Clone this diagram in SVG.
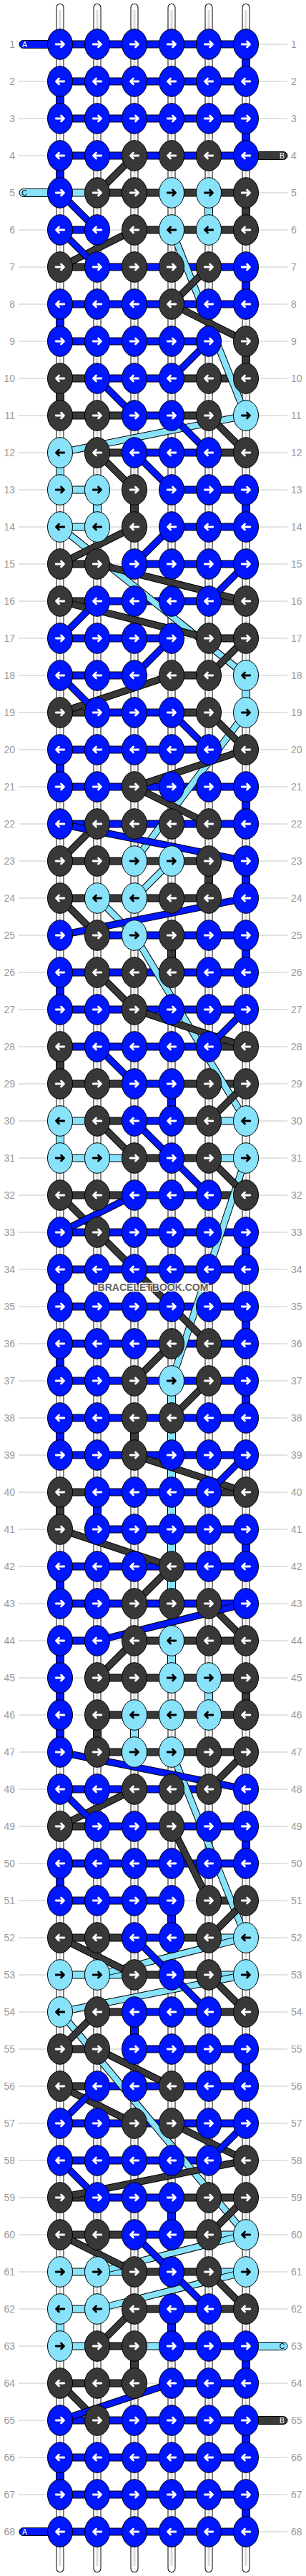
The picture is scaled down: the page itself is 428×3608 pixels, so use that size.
<svg xmlns="http://www.w3.org/2000/svg" xmlns:xlink="http://www.w3.org/1999/xlink" width="428" height="3608" viewBox="0 0 428 3608">
<style>
.kb{fill:#0016ff;stroke:#000;stroke-width:1}.kd{fill:#383838;stroke:#000;stroke-width:1}.kl{fill:#87e2fa;stroke:#000;stroke-width:1}
.aw,.ak{fill:none;stroke-width:2.8;stroke-linecap:round;stroke-linejoin:round}.aw{stroke:#fff}.ak{stroke:#000}
.gl{fill:none;stroke:#c4c4c4;stroke-width:1}
.to{fill:none;stroke:#000;stroke-width:11;stroke-linecap:round}.tw{fill:none;stroke:#fff;stroke-width:9;stroke-linecap:round}.tc{fill:none;stroke:#dadada;stroke-width:3}
.vo{fill:none;stroke:#000;stroke-width:12}.vi{fill:none;stroke-width:10}
.ho{fill:none;stroke:#000;stroke-width:11}.hi{fill:none;stroke-width:9}
.xo{fill:none;stroke:#000;stroke-width:10}.xi{fill:none;stroke-width:8}
.sb{stroke:#0016ff}.sd{stroke:#383838}.sl{stroke:#87e2fa}
.pb{fill:#0016ff;stroke:#000}.pd{fill:#383838;stroke:#000}.pl{fill:#87e2fa;stroke:#000}
.pt{font-family:"Liberation Sans",Arial,sans-serif;font-size:10.5px;text-anchor:middle}
.nl,.nr{font-family:"Liberation Sans",Arial,sans-serif;font-size:14px;fill:#999}.nl{text-anchor:end}
.wm{font-family:"Liberation Sans",Arial,sans-serif;font-size:14px;font-weight:bold;fill:#555;stroke:#fff;stroke-width:2.5;paint-order:stroke;text-anchor:middle;opacity:.9}
</style>
<defs>
<g id="bR"><ellipse class="kb" rx="17.5" ry="21.3"/><path class="aw" d="M-5.8 0H5.3M1.5-4L5.5 0L1.5 4"/></g>
<g id="bL"><ellipse class="kb" rx="17.5" ry="21.3"/><path class="aw" d="M5.8 0H-5.3M-1.5-4L-5.5 0L-1.5 4"/></g>
<g id="dR"><ellipse class="kd" rx="17.5" ry="21.3"/><path class="aw" d="M-5.8 0H5.3M1.5-4L5.5 0L1.5 4"/></g>
<g id="dL"><ellipse class="kd" rx="17.5" ry="21.3"/><path class="aw" d="M5.8 0H-5.3M-1.5-4L-5.5 0L-1.5 4"/></g>
<g id="lR"><ellipse class="kl" rx="17.5" ry="21.3"/><path class="ak" d="M-5.8 0H5.3M1.5-4L5.5 0L1.5 4"/></g>
<g id="lL"><ellipse class="kl" rx="17.5" ry="21.3"/><path class="ak" d="M5.8 0H-5.3M-1.5-4L-5.5 0L-1.5 4"/></g>
<path id="tubes" d="M84 10.5V3597.5M136 10.5V3597.5M188 10.5V3597.5M240 10.5V3597.5M292 10.5V3597.5M344 10.5V3597.5"/>
<path id="vB" d="M344 62V114M84 114V166M344 166V218M84 218V270M344 374V426M84 426V478M344 686V738M84 1050V1102M344 1102V1154M344 1206V1258M344 1310V1362M84 1362V1414M240 1518V1570M344 1726V1778M84 1778V1830M344 1830V1882M84 1882V1934M344 1934V1986M84 1986V2038M136 2090V2142M344 2142V2194M84 2194V2246M84 2298V2454M344 2558V2610M84 2610V2662M240 2662V2714M188 2818V2870M344 2870V2922M240 3078V3130M240 3234V3286M344 3286V3338M344 3390V3442M84 3442V3494M344 3494V3546"/>
<path id="vD" d="M344 270V322M344 478V530M84 530V582M188 686V738M292 1206V1258M240 1310V1362M84 1466V1518M188 1986V2038M84 2090V2142M344 2350V2402M136 2402V2454M188 3286V3338"/>
<path id="vL" d="M292 270V322M84 634V686M136 686V738M344 946V998M84 1570V1622M240 1934V2246M240 2298V2350M292 2350V2402M188 2402V2454M84 3234V3286"/>
<path id="hB" d="M84 62H344M84 114H344M84 166H344M84 218H344M84 426H344M84 1102H344M84 1154H344M84 1362H344M84 1414H344M84 1726H344M84 1778H344M84 1830H344M84 1882H344M84 1934H344M84 1986H344M84 2038H344M84 2194H344M84 2246H344M84 2610H344M84 2974H344M84 3390H344M84 3442H344M84 3494H344M84 3546H344M84 322H136M136 374H344M84 478H292M136 530H240M188 582H240M188 634H292M240 686H344M240 738H344M188 790H344M136 842H292M84 894H240M84 946H188M136 998H240M84 1050H292M136 1310H344M84 1466H292M188 1518H240M188 1570H240M188 1674H292M136 2090H292M136 2142H344M84 2298H136M84 2506H292M136 2558H344M84 2662H240M188 2714H240M188 2818H292M188 2870H344M136 2922H344M84 3026H292M136 3078H240M188 3130H240M240 3234H292M240 3286H344M240 3338H344"/>
<path id="hD" d="M136 270H344M188 322H344M84 374H136M84 530H136M240 530H344M84 582H188M240 582H292M136 634H188M292 634H344M84 790H136M84 842H136M292 842H344M292 894H344M240 946H292M84 998H136M240 998H292M84 1206H292M84 1258H292M292 1466H344M84 1518H188M240 1518H344M136 1570H188M240 1570H292M188 1622H292M84 1674H188M292 1674H344M84 2090H136M292 2090H344M188 2298H344M136 2350H344M136 2402H344M136 2454H344M84 2558H136M292 2662H344M84 2714H188M240 2714H292M188 2766H292M136 2818H188M292 2818H344M84 2870H136M84 2922H136M84 3078H136M240 3078H344M84 3130H188M240 3130H292M188 3182H292M188 3234H240M292 3234H344M136 3286H188M84 3338H188"/>
<path id="hL" d="M84 270H136M84 686H136M84 738H136M84 1570H136M292 1570H344M84 1622H188M292 1622H344M292 2714H344M84 2766H188M292 2766H344M292 3130H344M84 3182H188M292 3182H344M84 3234H136M84 3286H136M188 3286H240"/>
<path id="dgL" d="M240 322L344 582M344 582L84 634M84 738L344 946M344 998L188 1206M240 1206L188 1258M136 1258L188 1310M188 1310L344 1570M344 1622L240 1934M240 2454L344 2714M344 2714L136 2766M344 2766L84 2818M84 2818L344 3130M344 3130L136 3182M344 3182L136 3234"/>
<path id="dgD" d="M188 218L136 270M188 322L84 374M292 374L240 426M240 426L344 478M292 582L344 634M136 634L188 686M188 738L84 790M136 790L344 842M84 842L292 894M344 894L292 946M240 946L84 998M292 998L344 1050M344 1050L188 1102M188 1102L292 1154M136 1154L84 1206M84 1258L136 1310M136 1362L188 1414M188 1414L344 1466M344 1518L292 1570M136 1570L188 1622M292 1622L344 1674M84 1674L136 1726M136 1726L292 1882M240 1882L188 1934M292 1934L240 1986M188 2038L344 2090M84 2142L240 2194M240 2194L188 2246M292 2246L344 2298M188 2298L136 2350M344 2454L292 2506M188 2506L84 2558M240 2558L292 2662M344 2662L292 2714M84 2714L188 2766M292 2766L344 2818M136 2818L84 2870M136 2870L240 2922M84 2922L188 2974M240 2974L344 3026M344 3026L84 3078M344 3078L292 3130M84 3130L188 3182M292 3182L344 3234M188 3234L136 3286M84 3338L136 3390"/>
<path id="dgB" d="M84 270L136 322M84 322L136 374M292 478L240 530M136 530L188 582M240 582L292 634M188 634L240 686M240 738L188 790M344 790L292 842M136 842L84 894M240 894L188 946M84 946L136 998M240 998L292 1050M84 1154L344 1206M344 1258L84 1310M344 1414L292 1466M136 1466L188 1518M188 1570L240 1622M240 1622L292 1674M188 1674L84 1726M344 2038L292 2090M344 2246L136 2298M84 2454L344 2506M84 2506L136 2558M188 2714L240 2766M240 2766L292 2818M136 2922L84 2974M344 2974L292 3026M84 3026L136 3078M188 3130L240 3182M240 3182L292 3234M240 3338L84 3390"/>
</defs>
<rect width="428" height="3608" fill="#fff"/>
<path id="guides" class="gl" d="M26 62H402M26 114H402M26 166H402M26 218H402M26 270H402M26 322H402M26 374H402M26 426H402M26 478H402M26 530H402M26 582H402M26 634H402M26 686H402M26 738H402M26 790H402M26 842H402M26 894H402M26 946H402M26 998H402M26 1050H402M26 1102H402M26 1154H402M26 1206H402M26 1258H402M26 1310H402M26 1362H402M26 1414H402M26 1466H402M26 1518H402M26 1570H402M26 1622H402M26 1674H402M26 1726H402M26 1778H402M26 1830H402M26 1882H402M26 1934H402M26 1986H402M26 2038H402M26 2090H402M26 2142H402M26 2194H402M26 2246H402M26 2298H402M26 2350H402M26 2402H402M26 2454H402M26 2506H402M26 2558H402M26 2610H402M26 2662H402M26 2714H402M26 2766H402M26 2818H402M26 2870H402M26 2922H402M26 2974H402M26 3026H402M26 3078H402M26 3130H402M26 3182H402M26 3234H402M26 3286H402M26 3338H402M26 3390H402M26 3442H402M26 3494H402M26 3546H402"/>
<g id="connectors">
<use href="#tubes" class="to"/><use href="#tubes" class="tw"/><path class="tc" d="M84 14V3594M136 14V3594M188 14V3594M240 14V3594M292 14V3594M344 14V3594"/>
<use href="#vB" class="vo"/><use href="#vD" class="vo"/><use href="#vL" class="vo"/>
<use href="#vB" class="vi sb"/><use href="#vD" class="vi sd"/><use href="#vL" class="vi sl"/>
<use href="#hB" class="ho"/><use href="#hD" class="ho"/><use href="#hL" class="ho"/>
<use href="#hB" class="hi sb"/><use href="#hD" class="hi sd"/><use href="#hL" class="hi sl"/>
<rect class="pb" x="27" y="56.5" width="62" height="11" rx="5.5"/>
<rect class="pl" x="27" y="264.5" width="62" height="11" rx="5.5"/>
<rect class="pd" x="340" y="212.5" width="62" height="11" rx="5.5"/>
<rect class="pl" x="340" y="3280.5" width="62" height="11" rx="5.5"/>
<rect class="pd" x="340" y="3384.5" width="62" height="11" rx="5.5"/>
<rect class="pb" x="27" y="3540.5" width="62" height="11" rx="5.5"/>
<use href="#dgL" class="xo"/><use href="#dgL" class="xi sl"/>
<use href="#dgD" class="xo"/><use href="#dgD" class="xi sd"/>
<use href="#dgB" class="xo"/><use href="#dgB" class="xi sb"/>
</g>
<g id="pills-text" class="pt">
<text x="34.5" y="65.8" fill="#fff">A</text>
<text x="34" y="273.8" fill="#000">C</text>
<text x="394.5" y="221.8" fill="#fff">B</text>
<text x="394.5" y="3289.8" fill="#000">C</text>
<text x="394.5" y="3393.8" fill="#fff">B</text>
<text x="34.5" y="3549.8" fill="#fff">A</text>
</g>
<g id="knots">
<g id="k1-1"><use href="#bR" x="84" y="62"/></g><g id="k1-2"><use href="#bR" x="136" y="62"/></g><g id="k1-3"><use href="#bR" x="188" y="62"/></g><g id="k1-4"><use href="#bR" x="240" y="62"/></g><g id="k1-5"><use href="#bR" x="292" y="62"/></g><g id="k1-6"><use href="#bR" x="344" y="62"/></g>
<g id="k2-1"><use href="#bL" x="84" y="114"/></g><g id="k2-2"><use href="#bL" x="136" y="114"/></g><g id="k2-3"><use href="#bL" x="188" y="114"/></g><g id="k2-4"><use href="#bL" x="240" y="114"/></g><g id="k2-5"><use href="#bL" x="292" y="114"/></g><g id="k2-6"><use href="#bL" x="344" y="114"/></g>
<g id="k3-1"><use href="#bR" x="84" y="166"/></g><g id="k3-2"><use href="#bR" x="136" y="166"/></g><g id="k3-3"><use href="#bR" x="188" y="166"/></g><g id="k3-4"><use href="#bR" x="240" y="166"/></g><g id="k3-5"><use href="#bR" x="292" y="166"/></g><g id="k3-6"><use href="#bR" x="344" y="166"/></g>
<g id="k4-1"><use href="#bL" x="84" y="218"/></g><g id="k4-2"><use href="#bL" x="136" y="218"/></g><g id="k4-3"><use href="#dL" x="188" y="218"/></g><g id="k4-4"><use href="#dL" x="240" y="218"/></g><g id="k4-5"><use href="#dL" x="292" y="218"/></g><g id="k4-6"><use href="#bL" x="344" y="218"/></g>
<g id="k5-1"><use href="#bR" x="84" y="270"/></g><g id="k5-2"><use href="#dR" x="136" y="270"/></g><g id="k5-3"><use href="#dR" x="188" y="270"/></g><g id="k5-4"><use href="#lR" x="240" y="270"/></g><g id="k5-5"><use href="#lR" x="292" y="270"/></g><g id="k5-6"><use href="#dR" x="344" y="270"/></g>
<g id="k6-1"><use href="#bL" x="84" y="322"/></g><g id="k6-2"><use href="#bL" x="136" y="322"/></g><g id="k6-3"><use href="#dL" x="188" y="322"/></g><g id="k6-4"><use href="#lL" x="240" y="322"/></g><g id="k6-5"><use href="#lL" x="292" y="322"/></g><g id="k6-6"><use href="#dL" x="344" y="322"/></g>
<g id="k7-1"><use href="#dR" x="84" y="374"/></g><g id="k7-2"><use href="#bR" x="136" y="374"/></g><g id="k7-3"><use href="#dR" x="188" y="374"/></g><g id="k7-4"><use href="#dR" x="240" y="374"/></g><g id="k7-5"><use href="#dR" x="292" y="374"/></g><g id="k7-6"><use href="#bR" x="344" y="374"/></g>
<g id="k8-1"><use href="#bL" x="84" y="426"/></g><g id="k8-2"><use href="#bL" x="136" y="426"/></g><g id="k8-3"><use href="#bL" x="188" y="426"/></g><g id="k8-4"><use href="#dL" x="240" y="426"/></g><g id="k8-5"><use href="#bL" x="292" y="426"/></g><g id="k8-6"><use href="#bL" x="344" y="426"/></g>
<g id="k9-1"><use href="#bR" x="84" y="478"/></g><g id="k9-2"><use href="#bR" x="136" y="478"/></g><g id="k9-3"><use href="#bR" x="188" y="478"/></g><g id="k9-4"><use href="#bR" x="240" y="478"/></g><g id="k9-5"><use href="#bR" x="292" y="478"/></g><g id="k9-6"><use href="#dR" x="344" y="478"/></g>
<g id="k10-1"><use href="#dL" x="84" y="530"/></g><g id="k10-2"><use href="#bL" x="136" y="530"/></g><g id="k10-3"><use href="#bL" x="188" y="530"/></g><g id="k10-4"><use href="#bL" x="240" y="530"/></g><g id="k10-5"><use href="#dL" x="292" y="530"/></g><g id="k10-6"><use href="#dL" x="344" y="530"/></g>
<g id="k11-1"><use href="#dR" x="84" y="582"/></g><g id="k11-2"><use href="#dR" x="136" y="582"/></g><g id="k11-3"><use href="#bR" x="188" y="582"/></g><g id="k11-4"><use href="#bR" x="240" y="582"/></g><g id="k11-5"><use href="#dR" x="292" y="582"/></g><g id="k11-6"><use href="#lR" x="344" y="582"/></g>
<g id="k12-1"><use href="#lL" x="84" y="634"/></g><g id="k12-2"><use href="#dL" x="136" y="634"/></g><g id="k12-3"><use href="#bL" x="188" y="634"/></g><g id="k12-4"><use href="#bL" x="240" y="634"/></g><g id="k12-5"><use href="#bL" x="292" y="634"/></g><g id="k12-6"><use href="#dL" x="344" y="634"/></g>
<g id="k13-1"><use href="#lR" x="84" y="686"/></g><g id="k13-2"><use href="#lR" x="136" y="686"/></g><g id="k13-3"><use href="#dR" x="188" y="686"/></g><g id="k13-4"><use href="#bR" x="240" y="686"/></g><g id="k13-5"><use href="#bR" x="292" y="686"/></g><g id="k13-6"><use href="#bR" x="344" y="686"/></g>
<g id="k14-1"><use href="#lL" x="84" y="738"/></g><g id="k14-2"><use href="#lL" x="136" y="738"/></g><g id="k14-3"><use href="#dL" x="188" y="738"/></g><g id="k14-4"><use href="#bL" x="240" y="738"/></g><g id="k14-5"><use href="#bL" x="292" y="738"/></g><g id="k14-6"><use href="#bL" x="344" y="738"/></g>
<g id="k15-1"><use href="#dR" x="84" y="790"/></g><g id="k15-2"><use href="#dR" x="136" y="790"/></g><g id="k15-3"><use href="#bR" x="188" y="790"/></g><g id="k15-4"><use href="#bR" x="240" y="790"/></g><g id="k15-5"><use href="#bR" x="292" y="790"/></g><g id="k15-6"><use href="#bR" x="344" y="790"/></g>
<g id="k16-1"><use href="#dL" x="84" y="842"/></g><g id="k16-2"><use href="#bL" x="136" y="842"/></g><g id="k16-3"><use href="#bL" x="188" y="842"/></g><g id="k16-4"><use href="#bL" x="240" y="842"/></g><g id="k16-5"><use href="#bL" x="292" y="842"/></g><g id="k16-6"><use href="#dL" x="344" y="842"/></g>
<g id="k17-1"><use href="#bR" x="84" y="894"/></g><g id="k17-2"><use href="#bR" x="136" y="894"/></g><g id="k17-3"><use href="#bR" x="188" y="894"/></g><g id="k17-4"><use href="#bR" x="240" y="894"/></g><g id="k17-5"><use href="#dR" x="292" y="894"/></g><g id="k17-6"><use href="#dR" x="344" y="894"/></g>
<g id="k18-1"><use href="#bL" x="84" y="946"/></g><g id="k18-2"><use href="#bL" x="136" y="946"/></g><g id="k18-3"><use href="#bL" x="188" y="946"/></g><g id="k18-4"><use href="#dL" x="240" y="946"/></g><g id="k18-5"><use href="#dL" x="292" y="946"/></g><g id="k18-6"><use href="#lL" x="344" y="946"/></g>
<g id="k19-1"><use href="#dR" x="84" y="998"/></g><g id="k19-2"><use href="#bR" x="136" y="998"/></g><g id="k19-3"><use href="#bR" x="188" y="998"/></g><g id="k19-4"><use href="#bR" x="240" y="998"/></g><g id="k19-5"><use href="#dR" x="292" y="998"/></g><g id="k19-6"><use href="#lR" x="344" y="998"/></g>
<g id="k20-1"><use href="#bL" x="84" y="1050"/></g><g id="k20-2"><use href="#bL" x="136" y="1050"/></g><g id="k20-3"><use href="#bL" x="188" y="1050"/></g><g id="k20-4"><use href="#bL" x="240" y="1050"/></g><g id="k20-5"><use href="#bL" x="292" y="1050"/></g><g id="k20-6"><use href="#dL" x="344" y="1050"/></g>
<g id="k21-1"><use href="#bR" x="84" y="1102"/></g><g id="k21-2"><use href="#bR" x="136" y="1102"/></g><g id="k21-3"><use href="#dR" x="188" y="1102"/></g><g id="k21-4"><use href="#bR" x="240" y="1102"/></g><g id="k21-5"><use href="#bR" x="292" y="1102"/></g><g id="k21-6"><use href="#bR" x="344" y="1102"/></g>
<g id="k22-1"><use href="#bL" x="84" y="1154"/></g><g id="k22-2"><use href="#dL" x="136" y="1154"/></g><g id="k22-3"><use href="#dL" x="188" y="1154"/></g><g id="k22-4"><use href="#dL" x="240" y="1154"/></g><g id="k22-5"><use href="#dL" x="292" y="1154"/></g><g id="k22-6"><use href="#bL" x="344" y="1154"/></g>
<g id="k23-1"><use href="#dR" x="84" y="1206"/></g><g id="k23-2"><use href="#dR" x="136" y="1206"/></g><g id="k23-3"><use href="#lR" x="188" y="1206"/></g><g id="k23-4"><use href="#lR" x="240" y="1206"/></g><g id="k23-5"><use href="#dR" x="292" y="1206"/></g><g id="k23-6"><use href="#bR" x="344" y="1206"/></g>
<g id="k24-1"><use href="#dL" x="84" y="1258"/></g><g id="k24-2"><use href="#lL" x="136" y="1258"/></g><g id="k24-3"><use href="#lL" x="188" y="1258"/></g><g id="k24-4"><use href="#dL" x="240" y="1258"/></g><g id="k24-5"><use href="#dL" x="292" y="1258"/></g><g id="k24-6"><use href="#bL" x="344" y="1258"/></g>
<g id="k25-1"><use href="#bR" x="84" y="1310"/></g><g id="k25-2"><use href="#dR" x="136" y="1310"/></g><g id="k25-3"><use href="#lR" x="188" y="1310"/></g><g id="k25-4"><use href="#dR" x="240" y="1310"/></g><g id="k25-5"><use href="#bR" x="292" y="1310"/></g><g id="k25-6"><use href="#bR" x="344" y="1310"/></g>
<g id="k26-1"><use href="#bL" x="84" y="1362"/></g><g id="k26-2"><use href="#dL" x="136" y="1362"/></g><g id="k26-3"><use href="#dL" x="188" y="1362"/></g><g id="k26-4"><use href="#dL" x="240" y="1362"/></g><g id="k26-5"><use href="#bL" x="292" y="1362"/></g><g id="k26-6"><use href="#bL" x="344" y="1362"/></g>
<g id="k27-1"><use href="#bR" x="84" y="1414"/></g><g id="k27-2"><use href="#bR" x="136" y="1414"/></g><g id="k27-3"><use href="#dR" x="188" y="1414"/></g><g id="k27-4"><use href="#bR" x="240" y="1414"/></g><g id="k27-5"><use href="#bR" x="292" y="1414"/></g><g id="k27-6"><use href="#bR" x="344" y="1414"/></g>
<g id="k28-1"><use href="#dL" x="84" y="1466"/></g><g id="k28-2"><use href="#bL" x="136" y="1466"/></g><g id="k28-3"><use href="#bL" x="188" y="1466"/></g><g id="k28-4"><use href="#bL" x="240" y="1466"/></g><g id="k28-5"><use href="#bL" x="292" y="1466"/></g><g id="k28-6"><use href="#dL" x="344" y="1466"/></g>
<g id="k29-1"><use href="#dR" x="84" y="1518"/></g><g id="k29-2"><use href="#dR" x="136" y="1518"/></g><g id="k29-3"><use href="#bR" x="188" y="1518"/></g><g id="k29-4"><use href="#bR" x="240" y="1518"/></g><g id="k29-5"><use href="#dR" x="292" y="1518"/></g><g id="k29-6"><use href="#dR" x="344" y="1518"/></g>
<g id="k30-1"><use href="#lL" x="84" y="1570"/></g><g id="k30-2"><use href="#dL" x="136" y="1570"/></g><g id="k30-3"><use href="#bL" x="188" y="1570"/></g><g id="k30-4"><use href="#bL" x="240" y="1570"/></g><g id="k30-5"><use href="#dL" x="292" y="1570"/></g><g id="k30-6"><use href="#lL" x="344" y="1570"/></g>
<g id="k31-1"><use href="#lR" x="84" y="1622"/></g><g id="k31-2"><use href="#lR" x="136" y="1622"/></g><g id="k31-3"><use href="#dR" x="188" y="1622"/></g><g id="k31-4"><use href="#bR" x="240" y="1622"/></g><g id="k31-5"><use href="#dR" x="292" y="1622"/></g><g id="k31-6"><use href="#lR" x="344" y="1622"/></g>
<g id="k32-1"><use href="#dL" x="84" y="1674"/></g><g id="k32-2"><use href="#dL" x="136" y="1674"/></g><g id="k32-3"><use href="#bL" x="188" y="1674"/></g><g id="k32-4"><use href="#bL" x="240" y="1674"/></g><g id="k32-5"><use href="#bL" x="292" y="1674"/></g><g id="k32-6"><use href="#dL" x="344" y="1674"/></g>
<g id="k33-1"><use href="#bR" x="84" y="1726"/></g><g id="k33-2"><use href="#dR" x="136" y="1726"/></g><g id="k33-3"><use href="#bR" x="188" y="1726"/></g><g id="k33-4"><use href="#bR" x="240" y="1726"/></g><g id="k33-5"><use href="#bR" x="292" y="1726"/></g><g id="k33-6"><use href="#bR" x="344" y="1726"/></g>
<g id="k34-1"><use href="#bL" x="84" y="1778"/></g><g id="k34-2"><use href="#bL" x="136" y="1778"/></g><g id="k34-3"><use href="#bL" x="188" y="1778"/></g><g id="k34-4"><use href="#bL" x="240" y="1778"/></g><g id="k34-5"><use href="#bL" x="292" y="1778"/></g><g id="k34-6"><use href="#bL" x="344" y="1778"/></g>
<g id="k35-1"><use href="#bR" x="84" y="1830"/></g><g id="k35-2"><use href="#bR" x="136" y="1830"/></g><g id="k35-3"><use href="#bR" x="188" y="1830"/></g><g id="k35-4"><use href="#bR" x="240" y="1830"/></g><g id="k35-5"><use href="#bR" x="292" y="1830"/></g><g id="k35-6"><use href="#bR" x="344" y="1830"/></g>
<g id="k36-1"><use href="#bL" x="84" y="1882"/></g><g id="k36-2"><use href="#bL" x="136" y="1882"/></g><g id="k36-3"><use href="#bL" x="188" y="1882"/></g><g id="k36-4"><use href="#dL" x="240" y="1882"/></g><g id="k36-5"><use href="#dL" x="292" y="1882"/></g><g id="k36-6"><use href="#bL" x="344" y="1882"/></g>
<g id="k37-1"><use href="#bR" x="84" y="1934"/></g><g id="k37-2"><use href="#bR" x="136" y="1934"/></g><g id="k37-3"><use href="#dR" x="188" y="1934"/></g><g id="k37-4"><use href="#lR" x="240" y="1934"/></g><g id="k37-5"><use href="#dR" x="292" y="1934"/></g><g id="k37-6"><use href="#bR" x="344" y="1934"/></g>
<g id="k38-1"><use href="#bL" x="84" y="1986"/></g><g id="k38-2"><use href="#bL" x="136" y="1986"/></g><g id="k38-3"><use href="#dL" x="188" y="1986"/></g><g id="k38-4"><use href="#dL" x="240" y="1986"/></g><g id="k38-5"><use href="#bL" x="292" y="1986"/></g><g id="k38-6"><use href="#bL" x="344" y="1986"/></g>
<g id="k39-1"><use href="#bR" x="84" y="2038"/></g><g id="k39-2"><use href="#bR" x="136" y="2038"/></g><g id="k39-3"><use href="#dR" x="188" y="2038"/></g><g id="k39-4"><use href="#bR" x="240" y="2038"/></g><g id="k39-5"><use href="#bR" x="292" y="2038"/></g><g id="k39-6"><use href="#bR" x="344" y="2038"/></g>
<g id="k40-1"><use href="#dL" x="84" y="2090"/></g><g id="k40-2"><use href="#bL" x="136" y="2090"/></g><g id="k40-3"><use href="#bL" x="188" y="2090"/></g><g id="k40-4"><use href="#bL" x="240" y="2090"/></g><g id="k40-5"><use href="#bL" x="292" y="2090"/></g><g id="k40-6"><use href="#dL" x="344" y="2090"/></g>
<g id="k41-1"><use href="#dR" x="84" y="2142"/></g><g id="k41-2"><use href="#bR" x="136" y="2142"/></g><g id="k41-3"><use href="#bR" x="188" y="2142"/></g><g id="k41-4"><use href="#bR" x="240" y="2142"/></g><g id="k41-5"><use href="#bR" x="292" y="2142"/></g><g id="k41-6"><use href="#bR" x="344" y="2142"/></g>
<g id="k42-1"><use href="#bL" x="84" y="2194"/></g><g id="k42-2"><use href="#bL" x="136" y="2194"/></g><g id="k42-3"><use href="#bL" x="188" y="2194"/></g><g id="k42-4"><use href="#dL" x="240" y="2194"/></g><g id="k42-5"><use href="#bL" x="292" y="2194"/></g><g id="k42-6"><use href="#bL" x="344" y="2194"/></g>
<g id="k43-1"><use href="#bR" x="84" y="2246"/></g><g id="k43-2"><use href="#bR" x="136" y="2246"/></g><g id="k43-3"><use href="#dR" x="188" y="2246"/></g><g id="k43-4"><use href="#dR" x="240" y="2246"/></g><g id="k43-5"><use href="#dR" x="292" y="2246"/></g><g id="k43-6"><use href="#bR" x="344" y="2246"/></g>
<g id="k44-1"><use href="#bL" x="84" y="2298"/></g><g id="k44-2"><use href="#bL" x="136" y="2298"/></g><g id="k44-3"><use href="#dL" x="188" y="2298"/></g><g id="k44-4"><use href="#lL" x="240" y="2298"/></g><g id="k44-5"><use href="#dL" x="292" y="2298"/></g><g id="k44-6"><use href="#dL" x="344" y="2298"/></g>
<g id="k45-1"><use href="#bR" x="84" y="2350"/></g><g id="k45-2"><use href="#dR" x="136" y="2350"/></g><g id="k45-3"><use href="#dR" x="188" y="2350"/></g><g id="k45-4"><use href="#lR" x="240" y="2350"/></g><g id="k45-5"><use href="#lR" x="292" y="2350"/></g><g id="k45-6"><use href="#dR" x="344" y="2350"/></g>
<g id="k46-1"><use href="#bL" x="84" y="2402"/></g><g id="k46-2"><use href="#dL" x="136" y="2402"/></g><g id="k46-3"><use href="#lL" x="188" y="2402"/></g><g id="k46-4"><use href="#lL" x="240" y="2402"/></g><g id="k46-5"><use href="#lL" x="292" y="2402"/></g><g id="k46-6"><use href="#dL" x="344" y="2402"/></g>
<g id="k47-1"><use href="#bR" x="84" y="2454"/></g><g id="k47-2"><use href="#dR" x="136" y="2454"/></g><g id="k47-3"><use href="#lR" x="188" y="2454"/></g><g id="k47-4"><use href="#lR" x="240" y="2454"/></g><g id="k47-5"><use href="#dR" x="292" y="2454"/></g><g id="k47-6"><use href="#dR" x="344" y="2454"/></g>
<g id="k48-1"><use href="#bL" x="84" y="2506"/></g><g id="k48-2"><use href="#bL" x="136" y="2506"/></g><g id="k48-3"><use href="#dL" x="188" y="2506"/></g><g id="k48-4"><use href="#dL" x="240" y="2506"/></g><g id="k48-5"><use href="#dL" x="292" y="2506"/></g><g id="k48-6"><use href="#bL" x="344" y="2506"/></g>
<g id="k49-1"><use href="#dR" x="84" y="2558"/></g><g id="k49-2"><use href="#bR" x="136" y="2558"/></g><g id="k49-3"><use href="#bR" x="188" y="2558"/></g><g id="k49-4"><use href="#dR" x="240" y="2558"/></g><g id="k49-5"><use href="#bR" x="292" y="2558"/></g><g id="k49-6"><use href="#bR" x="344" y="2558"/></g>
<g id="k50-1"><use href="#bL" x="84" y="2610"/></g><g id="k50-2"><use href="#bL" x="136" y="2610"/></g><g id="k50-3"><use href="#bL" x="188" y="2610"/></g><g id="k50-4"><use href="#bL" x="240" y="2610"/></g><g id="k50-5"><use href="#bL" x="292" y="2610"/></g><g id="k50-6"><use href="#bL" x="344" y="2610"/></g>
<g id="k51-1"><use href="#bR" x="84" y="2662"/></g><g id="k51-2"><use href="#bR" x="136" y="2662"/></g><g id="k51-3"><use href="#bR" x="188" y="2662"/></g><g id="k51-4"><use href="#bR" x="240" y="2662"/></g><g id="k51-5"><use href="#dR" x="292" y="2662"/></g><g id="k51-6"><use href="#dR" x="344" y="2662"/></g>
<g id="k52-1"><use href="#dL" x="84" y="2714"/></g><g id="k52-2"><use href="#dL" x="136" y="2714"/></g><g id="k52-3"><use href="#bL" x="188" y="2714"/></g><g id="k52-4"><use href="#bL" x="240" y="2714"/></g><g id="k52-5"><use href="#dL" x="292" y="2714"/></g><g id="k52-6"><use href="#lL" x="344" y="2714"/></g>
<g id="k53-1"><use href="#lR" x="84" y="2766"/></g><g id="k53-2"><use href="#lR" x="136" y="2766"/></g><g id="k53-3"><use href="#dR" x="188" y="2766"/></g><g id="k53-4"><use href="#bR" x="240" y="2766"/></g><g id="k53-5"><use href="#dR" x="292" y="2766"/></g><g id="k53-6"><use href="#lR" x="344" y="2766"/></g>
<g id="k54-1"><use href="#lL" x="84" y="2818"/></g><g id="k54-2"><use href="#dL" x="136" y="2818"/></g><g id="k54-3"><use href="#bL" x="188" y="2818"/></g><g id="k54-4"><use href="#bL" x="240" y="2818"/></g><g id="k54-5"><use href="#bL" x="292" y="2818"/></g><g id="k54-6"><use href="#dL" x="344" y="2818"/></g>
<g id="k55-1"><use href="#dR" x="84" y="2870"/></g><g id="k55-2"><use href="#dR" x="136" y="2870"/></g><g id="k55-3"><use href="#bR" x="188" y="2870"/></g><g id="k55-4"><use href="#bR" x="240" y="2870"/></g><g id="k55-5"><use href="#bR" x="292" y="2870"/></g><g id="k55-6"><use href="#bR" x="344" y="2870"/></g>
<g id="k56-1"><use href="#dL" x="84" y="2922"/></g><g id="k56-2"><use href="#bL" x="136" y="2922"/></g><g id="k56-3"><use href="#bL" x="188" y="2922"/></g><g id="k56-4"><use href="#dL" x="240" y="2922"/></g><g id="k56-5"><use href="#bL" x="292" y="2922"/></g><g id="k56-6"><use href="#bL" x="344" y="2922"/></g>
<g id="k57-1"><use href="#bR" x="84" y="2974"/></g><g id="k57-2"><use href="#bR" x="136" y="2974"/></g><g id="k57-3"><use href="#dR" x="188" y="2974"/></g><g id="k57-4"><use href="#dR" x="240" y="2974"/></g><g id="k57-5"><use href="#bR" x="292" y="2974"/></g><g id="k57-6"><use href="#bR" x="344" y="2974"/></g>
<g id="k58-1"><use href="#bL" x="84" y="3026"/></g><g id="k58-2"><use href="#bL" x="136" y="3026"/></g><g id="k58-3"><use href="#bL" x="188" y="3026"/></g><g id="k58-4"><use href="#bL" x="240" y="3026"/></g><g id="k58-5"><use href="#bL" x="292" y="3026"/></g><g id="k58-6"><use href="#dL" x="344" y="3026"/></g>
<g id="k59-1"><use href="#dR" x="84" y="3078"/></g><g id="k59-2"><use href="#bR" x="136" y="3078"/></g><g id="k59-3"><use href="#bR" x="188" y="3078"/></g><g id="k59-4"><use href="#bR" x="240" y="3078"/></g><g id="k59-5"><use href="#dR" x="292" y="3078"/></g><g id="k59-6"><use href="#dR" x="344" y="3078"/></g>
<g id="k60-1"><use href="#dL" x="84" y="3130"/></g><g id="k60-2"><use href="#dL" x="136" y="3130"/></g><g id="k60-3"><use href="#bL" x="188" y="3130"/></g><g id="k60-4"><use href="#bL" x="240" y="3130"/></g><g id="k60-5"><use href="#dL" x="292" y="3130"/></g><g id="k60-6"><use href="#lL" x="344" y="3130"/></g>
<g id="k61-1"><use href="#lR" x="84" y="3182"/></g><g id="k61-2"><use href="#lR" x="136" y="3182"/></g><g id="k61-3"><use href="#dR" x="188" y="3182"/></g><g id="k61-4"><use href="#bR" x="240" y="3182"/></g><g id="k61-5"><use href="#dR" x="292" y="3182"/></g><g id="k61-6"><use href="#lR" x="344" y="3182"/></g>
<g id="k62-1"><use href="#lL" x="84" y="3234"/></g><g id="k62-2"><use href="#lL" x="136" y="3234"/></g><g id="k62-3"><use href="#dL" x="188" y="3234"/></g><g id="k62-4"><use href="#bL" x="240" y="3234"/></g><g id="k62-5"><use href="#bL" x="292" y="3234"/></g><g id="k62-6"><use href="#dL" x="344" y="3234"/></g>
<g id="k63-1"><use href="#lR" x="84" y="3286"/></g><g id="k63-2"><use href="#dR" x="136" y="3286"/></g><g id="k63-3"><use href="#dR" x="188" y="3286"/></g><g id="k63-4"><use href="#bR" x="240" y="3286"/></g><g id="k63-5"><use href="#bR" x="292" y="3286"/></g><g id="k63-6"><use href="#bR" x="344" y="3286"/></g>
<g id="k64-1"><use href="#dL" x="84" y="3338"/></g><g id="k64-2"><use href="#dL" x="136" y="3338"/></g><g id="k64-3"><use href="#dL" x="188" y="3338"/></g><g id="k64-4"><use href="#bL" x="240" y="3338"/></g><g id="k64-5"><use href="#bL" x="292" y="3338"/></g><g id="k64-6"><use href="#bL" x="344" y="3338"/></g>
<g id="k65-1"><use href="#bR" x="84" y="3390"/></g><g id="k65-2"><use href="#dR" x="136" y="3390"/></g><g id="k65-3"><use href="#bR" x="188" y="3390"/></g><g id="k65-4"><use href="#bR" x="240" y="3390"/></g><g id="k65-5"><use href="#bR" x="292" y="3390"/></g><g id="k65-6"><use href="#bR" x="344" y="3390"/></g>
<g id="k66-1"><use href="#bL" x="84" y="3442"/></g><g id="k66-2"><use href="#bL" x="136" y="3442"/></g><g id="k66-3"><use href="#bL" x="188" y="3442"/></g><g id="k66-4"><use href="#bL" x="240" y="3442"/></g><g id="k66-5"><use href="#bL" x="292" y="3442"/></g><g id="k66-6"><use href="#bL" x="344" y="3442"/></g>
<g id="k67-1"><use href="#bR" x="84" y="3494"/></g><g id="k67-2"><use href="#bR" x="136" y="3494"/></g><g id="k67-3"><use href="#bR" x="188" y="3494"/></g><g id="k67-4"><use href="#bR" x="240" y="3494"/></g><g id="k67-5"><use href="#bR" x="292" y="3494"/></g><g id="k67-6"><use href="#bR" x="344" y="3494"/></g>
<g id="k68-1"><use href="#bL" x="84" y="3546"/></g><g id="k68-2"><use href="#bL" x="136" y="3546"/></g><g id="k68-3"><use href="#bL" x="188" y="3546"/></g><g id="k68-4"><use href="#bL" x="240" y="3546"/></g><g id="k68-5"><use href="#bL" x="292" y="3546"/></g><g id="k68-6"><use href="#bL" x="344" y="3546"/></g>
</g>
<g id="labels-left" class="nl">
<text x="21" y="67">1</text><text x="21" y="119">2</text><text x="21" y="171">3</text><text x="21" y="223">4</text><text x="21" y="275">5</text><text x="21" y="327">6</text><text x="21" y="379">7</text><text x="21" y="431">8</text><text x="21" y="483">9</text><text x="21" y="535">10</text><text x="21" y="587">11</text><text x="21" y="639">12</text><text x="21" y="691">13</text><text x="21" y="743">14</text><text x="21" y="795">15</text><text x="21" y="847">16</text><text x="21" y="899">17</text><text x="21" y="951">18</text><text x="21" y="1003">19</text><text x="21" y="1055">20</text><text x="21" y="1107">21</text><text x="21" y="1159">22</text><text x="21" y="1211">23</text><text x="21" y="1263">24</text><text x="21" y="1315">25</text><text x="21" y="1367">26</text><text x="21" y="1419">27</text><text x="21" y="1471">28</text><text x="21" y="1523">29</text><text x="21" y="1575">30</text><text x="21" y="1627">31</text><text x="21" y="1679">32</text><text x="21" y="1731">33</text><text x="21" y="1783">34</text><text x="21" y="1835">35</text><text x="21" y="1887">36</text><text x="21" y="1939">37</text><text x="21" y="1991">38</text><text x="21" y="2043">39</text><text x="21" y="2095">40</text><text x="21" y="2147">41</text><text x="21" y="2199">42</text><text x="21" y="2251">43</text><text x="21" y="2303">44</text><text x="21" y="2355">45</text><text x="21" y="2407">46</text><text x="21" y="2459">47</text><text x="21" y="2511">48</text><text x="21" y="2563">49</text><text x="21" y="2615">50</text><text x="21" y="2667">51</text><text x="21" y="2719">52</text><text x="21" y="2771">53</text><text x="21" y="2823">54</text><text x="21" y="2875">55</text><text x="21" y="2927">56</text><text x="21" y="2979">57</text><text x="21" y="3031">58</text><text x="21" y="3083">59</text><text x="21" y="3135">60</text><text x="21" y="3187">61</text><text x="21" y="3239">62</text><text x="21" y="3291">63</text><text x="21" y="3343">64</text><text x="21" y="3395">65</text><text x="21" y="3447">66</text><text x="21" y="3499">67</text><text x="21" y="3551">68</text>
</g>
<g id="labels-right" class="nr">
<text x="407" y="67">1</text><text x="407" y="119">2</text><text x="407" y="171">3</text><text x="407" y="223">4</text><text x="407" y="275">5</text><text x="407" y="327">6</text><text x="407" y="379">7</text><text x="407" y="431">8</text><text x="407" y="483">9</text><text x="407" y="535">10</text><text x="407" y="587">11</text><text x="407" y="639">12</text><text x="407" y="691">13</text><text x="407" y="743">14</text><text x="407" y="795">15</text><text x="407" y="847">16</text><text x="407" y="899">17</text><text x="407" y="951">18</text><text x="407" y="1003">19</text><text x="407" y="1055">20</text><text x="407" y="1107">21</text><text x="407" y="1159">22</text><text x="407" y="1211">23</text><text x="407" y="1263">24</text><text x="407" y="1315">25</text><text x="407" y="1367">26</text><text x="407" y="1419">27</text><text x="407" y="1471">28</text><text x="407" y="1523">29</text><text x="407" y="1575">30</text><text x="407" y="1627">31</text><text x="407" y="1679">32</text><text x="407" y="1731">33</text><text x="407" y="1783">34</text><text x="407" y="1835">35</text><text x="407" y="1887">36</text><text x="407" y="1939">37</text><text x="407" y="1991">38</text><text x="407" y="2043">39</text><text x="407" y="2095">40</text><text x="407" y="2147">41</text><text x="407" y="2199">42</text><text x="407" y="2251">43</text><text x="407" y="2303">44</text><text x="407" y="2355">45</text><text x="407" y="2407">46</text><text x="407" y="2459">47</text><text x="407" y="2511">48</text><text x="407" y="2563">49</text><text x="407" y="2615">50</text><text x="407" y="2667">51</text><text x="407" y="2719">52</text><text x="407" y="2771">53</text><text x="407" y="2823">54</text><text x="407" y="2875">55</text><text x="407" y="2927">56</text><text x="407" y="2979">57</text><text x="407" y="3031">58</text><text x="407" y="3083">59</text><text x="407" y="3135">60</text><text x="407" y="3187">61</text><text x="407" y="3239">62</text><text x="407" y="3291">63</text><text x="407" y="3343">64</text><text x="407" y="3395">65</text><text x="407" y="3447">66</text><text x="407" y="3499">67</text><text x="407" y="3551">68</text>
</g>
<text class="wm" x="214" y="1808">BRACELETBOOK.COM</text>
</svg>
